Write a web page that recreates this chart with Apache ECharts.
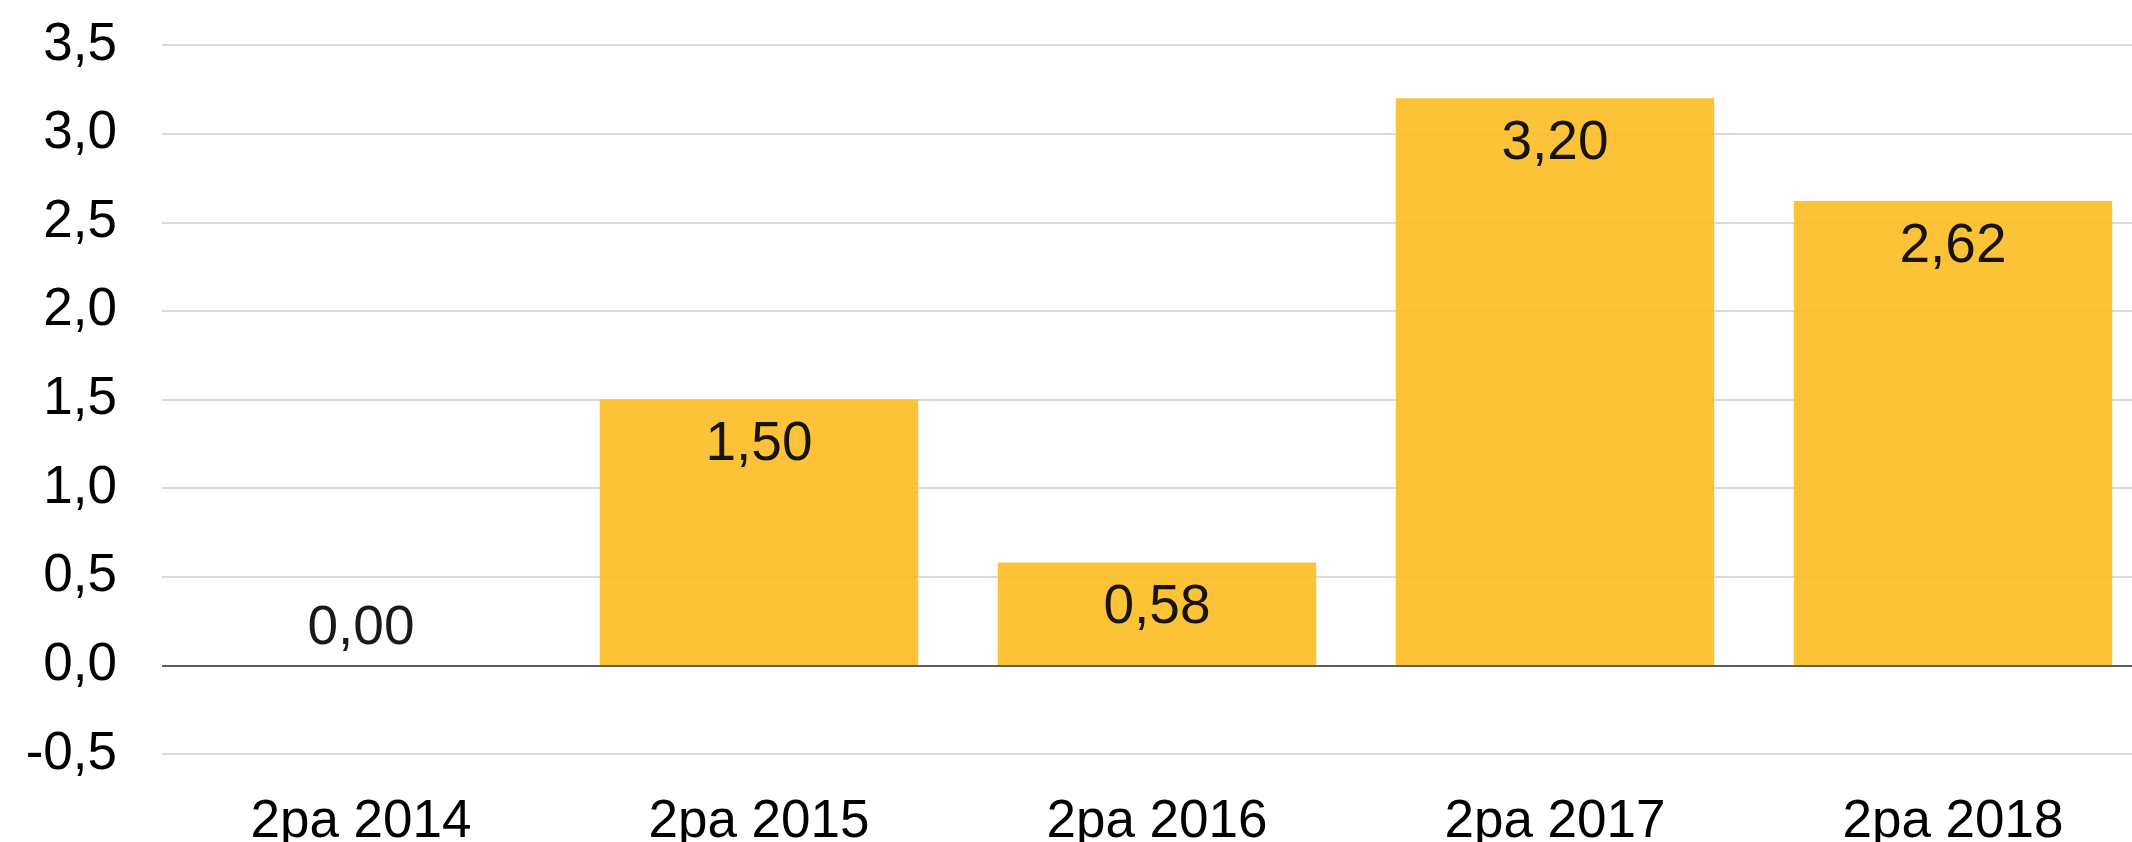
<!DOCTYPE html>
<html>
<head>
<meta charset="utf-8">
<script src="https://cdn.jsdelivr.net/npm/echarts@6.0.0/dist/echarts.min.js"></script>
<style>
  html, body { margin: 0; padding: 0; background: #fff; }
  #main { width: 2132px; height: 842px; }
</style>
</head>
<body>
<div id="main"></div>
<script>
const categories = ["2pa 2014", "2pa 2015", "2pa 2016", "2pa 2017", "2pa 2018"];
const values = [0.0, 1.5, 0.58, 3.2, 2.62];
const yTicks = { min: -0.5, max: 3.5, step: 0.5 };

const font = "Liberation Sans, Arial, sans-serif";
const comma = (v, d) => v.toFixed(d).replace(".", ",");

// a zero bar has no room inside, so its label sits on top
const barData = values.map((v) =>
  v === 0 ? { value: v, label: { position: "top", distance: 9 } } : v
);

const chart = echarts.init(document.getElementById("main"));
chart.setOption({
  animation: false,
  grid: {
    left: 162, top: 45, width: 1990, height: 709,
    containLabel: false, outerBoundsMode: "none",
  },
  xAxis: {
    type: "category",
    data: categories,
    axisLine: { show: false, onZero: false },
    axisTick: { show: false },
    axisLabel: { color: "#000", fontSize: 53, fontFamily: font, margin: 42 },
  },
  yAxis: {
    type: "value",
    min: yTicks.min,
    max: yTicks.max,
    interval: yTicks.step,
    axisLine: { show: false },
    axisTick: { show: false },
    axisLabel: {
      color: "#000",
      fontSize: 53,
      fontFamily: font,
      margin: 45,
      formatter: (v) => comma(v, 1),
    },
    splitLine: { lineStyle: { color: "#dadada", width: 2 } },
  },
  series: [
    {
      type: "bar",
      data: barData,
      barCategoryGap: "20%",
      itemStyle: { color: "#fcbc24", opacity: 0.9 },
      label: {
        show: true,
        position: "insideTop",
        distance: 18,
        color: "#000",
        fontSize: 55,
        fontFamily: font,
        formatter: (p) => comma(p.value, 2),
      },
      markLine: {
        silent: true,
        symbol: "none",
        label: { show: false },
        lineStyle: { color: "#5f5f5f", width: 2, type: "solid" },
        data: [{ yAxis: 0 }],
      },
    },
  ],
});
</script>
</body>
</html>
